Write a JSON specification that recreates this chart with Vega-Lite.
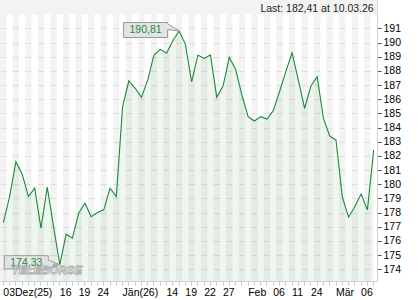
{
  "$schema": "https://vega.github.io/schema/vega-lite/v6.json",
  "width": 377,
  "height": 281,
  "autosize": "none",
  "padding": {"left": 0, "top": 0, "right": 43, "bottom": 19},
  "background": "#ffffff",
  "config": {
    "view": {"stroke": null, "fill": "#f3f3f3"},
    "font": "Liberation Sans"
  },
  "data": {
    "values": [
      {"date": "2025-12-03", "close": 177.29},
      {"date": "2025-12-04", "close": 179.13},
      {"date": "2025-12-05", "close": 181.59},
      {"date": "2025-12-08", "close": 180.72},
      {"date": "2025-12-09", "close": 179.13},
      {"date": "2025-12-10", "close": 179.72},
      {"date": "2025-12-11", "close": 176.90},
      {"date": "2025-12-12", "close": 179.79},
      {"date": "2025-12-15", "close": 177.01},
      {"date": "2025-12-16", "close": 174.33},
      {"date": "2025-12-17", "close": 176.47},
      {"date": "2025-12-18", "close": 176.19},
      {"date": "2025-12-19", "close": 177.95},
      {"date": "2025-12-22", "close": 178.66},
      {"date": "2025-12-23", "close": 177.71},
      {"date": "2025-12-24", "close": 178.00},
      {"date": "2025-12-29", "close": 178.19},
      {"date": "2025-12-30", "close": 179.72},
      {"date": "2025-12-31", "close": 179.13},
      {"date": "2026-01-05", "close": 185.47},
      {"date": "2026-01-06", "close": 187.30},
      {"date": "2026-01-07", "close": 186.77},
      {"date": "2026-01-08", "close": 186.13},
      {"date": "2026-01-09", "close": 187.35},
      {"date": "2026-01-12", "close": 189.12},
      {"date": "2026-01-13", "close": 189.52},
      {"date": "2026-01-14", "close": 189.24},
      {"date": "2026-01-15", "close": 190.13},
      {"date": "2026-01-16", "close": 190.81},
      {"date": "2026-01-19", "close": 189.89},
      {"date": "2026-01-20", "close": 187.23},
      {"date": "2026-01-21", "close": 189.12},
      {"date": "2026-01-22", "close": 188.88},
      {"date": "2026-01-23", "close": 189.12},
      {"date": "2026-01-26", "close": 186.13},
      {"date": "2026-01-27", "close": 186.93},
      {"date": "2026-01-28", "close": 188.95},
      {"date": "2026-01-29", "close": 188.11},
      {"date": "2026-01-30", "close": 186.30},
      {"date": "2026-02-02", "close": 184.77},
      {"date": "2026-02-03", "close": 184.46},
      {"date": "2026-02-04", "close": 184.77},
      {"date": "2026-02-05", "close": 184.60},
      {"date": "2026-02-06", "close": 185.19},
      {"date": "2026-02-09", "close": 186.53},
      {"date": "2026-02-10", "close": 187.94},
      {"date": "2026-02-11", "close": 189.28},
      {"date": "2026-02-12", "close": 187.35},
      {"date": "2026-02-13", "close": 185.36},
      {"date": "2026-02-24", "close": 186.93},
      {"date": "2026-02-25", "close": 187.59},
      {"date": "2026-02-26", "close": 184.65},
      {"date": "2026-02-27", "close": 183.40},
      {"date": "2026-03-02", "close": 183.12},
      {"date": "2026-03-03", "close": 179.13},
      {"date": "2026-03-04", "close": 177.67},
      {"date": "2026-03-05", "close": 178.42},
      {"date": "2026-03-06", "close": 179.31},
      {"date": "2026-03-09", "close": 178.19},
      {"date": "2026-03-10", "close": 182.41}
    ]
  },
  "encoding": {
    "x": {
      "field": "date",
      "type": "ordinal",
      "sort": "ascending",
      "scale": {"type": "band", "paddingInner": 0, "paddingOuter": 0.03},
      "axis": {
        "title": null,
        "grid": false,
        "bandPosition": 0.5,
        "domainColor": "#cfcfcf",
        "tickColor": "#c8c8c8",
        "tickSize": 4,
        "labelAlign": "left",
        "labelBaseline": "top",
        "labelPadding": 2,
        "labelFontSize": 10.5,
        "labelColor": "#000000",
        "labelOverlap": false,
        "labelFlush": false,
        "labelBound": false,
        "labelAngle": 0,
        "labelExpr": "({'2025-12-03':'03Dez(25)','2025-12-16':'16','2025-12-19':'19','2025-12-24':'24','2026-01-05':'Jän(26)','2026-01-14':'14','2026-01-19':'19','2026-01-22':'22','2026-01-27':'27','2026-02-02':'Feb','2026-02-06':'06','2026-02-11':'11','2026-02-24':'24','2026-03-02':'Mär','2026-03-06':'06'})[datum.value] || ''"
      }
    },
    "y": {
      "field": "close",
      "type": "quantitative",
      "scale": {"domain": [173.17, 193.0], "nice": false, "zero": false},
      "axis": {
        "orient": "right",
        "title": null,
        "values": [174, 175, 176, 177, 178, 179, 180, 181, 182, 183, 184, 185, 186, 187, 188, 189, 190, 191],
        "grid": true,
        "gridColor": "#dcdcdc",
        "domain": true,
        "domainColor": "#d0d0d0",
        "tickColor": "#555555",
        "tickSize": 4,
        "labelPadding": 2,
        "labelFontSize": 10.5,
        "labelColor": "#000000",
        "labelFlush": false,
        "labelBound": false
      }
    }
  },
  "layer": [
    {
      "transform": [
        {"window": [{"op": "row_number", "as": "rn"}], "sort": [{"field": "date"}]},
        {"filter": "datum.rn % 2 == 0"}
      ],
      "mark": {"type": "rect", "color": "#ffffff"},
      "encoding": {
        "y": {
          "datum": 192.0,
          "type": "quantitative",
          "axis": {
            "orient": "right",
            "title": null,
            "values": [174, 175, 176, 177, 178, 179, 180, 181, 182, 183, 184, 185, 186, 187, 188, 189, 190, 191],
            "grid": true,
            "gridColor": "#dcdcdc",
            "domain": true,
            "domainColor": "#d0d0d0",
            "tickColor": "#555555",
            "tickSize": 4,
            "labelPadding": 2,
            "labelFontSize": 10.5,
            "labelColor": "#000000",
            "labelFlush": false,
            "labelBound": false
          }
        },
        "y2": {"datum": 173.17}
      }
    },
    {
      "mark": {"type": "area", "color": "#2e8b3e", "opacity": 0.08},
      "encoding": {
        "y2": {"datum": 173.17}
      }
    },
    {
      "mark": {"type": "line", "color": "#1a8a3a", "strokeWidth": 1.1}
    },
    {
      "transform": [{"filter": "datum.date == '2026-01-16'"}],
      "mark": {
        "type": "point",
        "shape": "M-0.925,-0.142L-0.192,-0.142L-0.192,-0.123L0,0L-0.192,-0.023L-0.192,0.108L-0.925,0.108Z",
        "size": 14400,
        "filled": true,
        "fill": "#e3e3e3",
        "stroke": "#9a9a9a",
        "strokeWidth": 1,
        "opacity": 1
      }
    },
    {
      "transform": [{"filter": "datum.date == '2026-01-16'"}],
      "mark": {"type": "text", "text": "190,81", "dx": -33.5, "dy": -1, "fontSize": 10.5, "color": "#1f8a3f", "align": "center", "baseline": "middle"}
    },
    {
      "transform": [{"filter": "datum.date == '2025-12-16'"}],
      "mark": {
        "type": "point",
        "shape": "M-0.925,-0.148L-0.192,-0.148L-0.192,-0.077L0,0L-0.192,0.06L-0.192,0.073L-0.925,0.073Z",
        "size": 14400,
        "filled": true,
        "fill": "#e3e3e3",
        "stroke": "#9a9a9a",
        "strokeWidth": 1,
        "opacity": 1
      }
    },
    {
      "transform": [{"filter": "datum.date == '2025-12-16'"}],
      "mark": {"type": "text", "text": "174,33", "dx": -33.5, "dy": -2, "fontSize": 10.5, "color": "#1f8a3f", "align": "center", "baseline": "middle"}
    },
    {
      "data": {"values": [{"mark": "TELEBÖRSE", "date": "2025-12-03", "close": 173.85}]},
      "mark": {"type": "text", "align": "left", "baseline": "middle", "dx": 8.5, "fontSize": 11.5, "fontWeight": "bold", "fontStyle": "italic", "fill": "#ffffff", "stroke": "#a0a0a0", "strokeWidth": 0.9, "opacity": 0.85},
      "encoding": {
        "text": {"field": "mark"}
      }
    },
    {
      "data": {"values": [{"label": "Last: 182,41 at 10.03.26", "date": "2026-03-10", "close": 192.37}]},
      "mark": {"type": "text", "align": "right", "baseline": "middle", "fontSize": 10.5, "color": "#222222"},
      "encoding": {
        "text": {"field": "label"}
      }
    }
  ]
}
